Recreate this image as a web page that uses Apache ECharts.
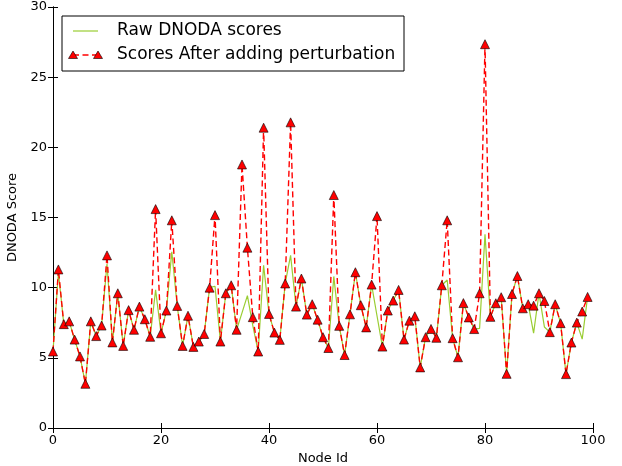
<!DOCTYPE html>
<html>
<head>
<meta charset="utf-8">
<script src="https://cdn.jsdelivr.net/npm/echarts@6/dist/echarts.min.js"></script>
<style>
  html, body { margin: 0; padding: 0; background: #fff; }
  #main { width: 622px; height: 466px; }
</style>
</head>
<body>
<div id="main"></div>
<script>
// scores, node ids 0..99
var rawScores = [
  5.45, 11.1, 7.4, 7.6, 6.3, 5.1, 3.15, 7.6, 6.55, 7.3,
  11.7, 6.1, 9.6, 5.85, 8.4, 7.0, 8.65, 7.75, 6.5, 9.84,
  6.75, 8.37, 12.56, 8.7, 5.85, 8.0, 5.78, 6.16, 6.7, 10.0,
  10.1, 6.16, 9.6, 10.17, 7.0, 8.2, 9.43, 7.3, 5.45, 11.6,
  8.13, 6.8, 6.28, 10.3, 12.3, 8.65, 10.65, 8.08, 8.82, 7.72,
  6.47, 5.7, 10.8, 7.28, 5.2, 8.1, 11.1, 8.75, 7.17, 10.22,
  8.0, 5.8, 8.37, 9.08, 9.84, 6.3, 7.65, 7.96, 4.32, 6.47,
  7.06, 6.43, 10.17, 10.55, 6.4, 5.04, 8.9, 7.88, 7.05, 7.1,
  13.8, 7.92, 8.89, 9.32, 3.86, 9.55, 10.83, 8.53, 8.82, 6.76,
  9.6, 7.2, 6.83, 8.82, 7.47, 3.84, 6.09, 7.51, 6.33, 9.34
];
var perturbedScores = [
  5.45, 11.3, 7.4, 7.6, 6.3, 5.1, 3.15, 7.6, 6.55, 7.3,
  12.3, 6.1, 9.6, 5.85, 8.4, 7.0, 8.65, 7.75, 6.5, 15.6,
  6.75, 8.37, 14.8, 8.7, 5.85, 8.0, 5.78, 6.16, 6.7, 10.0,
  15.17, 6.16, 9.6, 10.17, 7.0, 18.78, 12.85, 7.9, 5.45, 21.4,
  8.13, 6.8, 6.28, 10.3, 21.78, 8.65, 10.65, 8.08, 8.82, 7.72,
  6.47, 5.7, 16.6, 7.28, 5.2, 8.1, 11.1, 8.75, 7.17, 10.22,
  15.1, 5.8, 8.37, 9.08, 9.84, 6.3, 7.65, 7.96, 4.32, 6.47,
  7.06, 6.43, 10.17, 14.8, 6.4, 5.04, 8.9, 7.88, 7.05, 9.6,
  27.35, 7.92, 8.89, 9.32, 3.86, 9.55, 10.83, 8.53, 8.82, 8.72,
  9.6, 9.05, 6.83, 8.82, 7.47, 3.84, 6.09, 7.51, 8.3, 9.34
];
var xTicks = [0, 20, 40, 60, 80, 100];
var yTicks = [0, 5, 10, 15, 20, 25, 30];
var legendNames = ['Raw DNODA scores', 'Scores After adding perturbation'];

var font = 'DejaVu Sans';
var myChart = echarts.init(document.getElementById('main'), null, { renderer: 'canvas' });

function pairs(arr) {
  return arr.map(function (v, i) { return [i, v]; });
}

var tickStyle = { show: true, inside: true, length: 5, lineStyle: { color: '#000', width: 1 } };
var lineStyle = { show: true, lineStyle: { color: '#000', width: 1 } };

var option = {
  animation: false,
  backgroundColor: '#fff',
  grid: { left: 53, top: 7, right: 29, bottom: 38, outerBoundsMode: 'none', containLabel: false },
  xAxis: [{
    type: 'value', min: xTicks[0], max: xTicks[xTicks.length - 1], interval: 20,
    position: 'bottom',
    name: 'Node Id', nameLocation: 'middle', nameGap: 22,
    nameTextStyle: { fontFamily: font, fontSize: 13, color: '#000' },
    axisLine: lineStyle, axisTick: tickStyle, splitLine: { show: false },
    axisLabel: { fontFamily: font, fontSize: 13, color: '#000', margin: 6 }
  }, {
    type: 'value', min: 0, max: 100, interval: 20, position: 'top',
    axisLine: lineStyle, axisTick: tickStyle, splitLine: { show: false },
    axisLabel: { show: false }
  }],
  yAxis: [{
    type: 'value', min: yTicks[0], max: yTicks[yTicks.length - 1], interval: 5,
    position: 'left',
    name: 'DNODA Score', nameLocation: 'middle', nameGap: 27, nameRotate: 90,
    nameTextStyle: { fontFamily: font, fontSize: 13, color: '#000' },
    axisLine: lineStyle, axisTick: tickStyle, splitLine: { show: false },
    axisLabel: { fontFamily: font, fontSize: 13, color: '#000', margin: 6 }
  }, {
    type: 'value', min: 0, max: 30, interval: 5, position: 'right',
    axisLine: lineStyle, axisTick: tickStyle, splitLine: { show: false },
    axisLabel: { show: false }
  }],
  series: [{
    name: legendNames[0],
    type: 'line',
    data: pairs(rawScores),
    showSymbol: false,
    symbol: 'none',
    lineStyle: { color: '#9acd32', width: 1.2 },
    z: 2
  }, {
    name: legendNames[1],
    type: 'line',
    data: pairs(perturbedScores),
    symbol: 'triangle',
    symbolSize: 9,
    itemStyle: { color: '#ff0000', borderColor: '#000', borderWidth: 0.6 },
    lineStyle: { color: '#ff0000', width: 1.4, type: [6, 3.5] },
    z: 3
  }],
  graphic: [
    { type: 'rect', shape: { x: 62, y: 16, width: 342, height: 55 },
      style: { fill: '#fff', stroke: '#000', lineWidth: 1 }, z: 10 },
    { type: 'line', shape: { x1: 73, y1: 31, x2: 98, y2: 31 },
      style: { stroke: '#9acd32', lineWidth: 1.2 }, z: 11 },
    { type: 'line', shape: { x1: 73, y1: 55, x2: 98, y2: 55 },
      style: { stroke: '#ff0000', lineWidth: 1.4, lineDash: [6, 3.5] }, z: 11 },
    { type: 'polygon', shape: { points: [[73, 51], [77.5, 58.5], [68.5, 58.5]] },
      style: { fill: '#ff0000', stroke: '#000', lineWidth: 0.6 }, z: 12 },
    { type: 'polygon', shape: { points: [[98, 51], [102.5, 58.5], [93.5, 58.5]] },
      style: { fill: '#ff0000', stroke: '#000', lineWidth: 0.6 }, z: 12 },
    { type: 'text', x: 117, y: 31, z: 12,
      style: { text: legendNames[0], fontFamily: font, fontSize: 17, fill: '#000', verticalAlign: 'middle' } },
    { type: 'text', x: 117, y: 55, z: 12,
      style: { text: legendNames[1], fontFamily: font, fontSize: 17, fill: '#000', verticalAlign: 'middle' } }
  ]
};

myChart.setOption(option);
</script>
</body>
</html>
